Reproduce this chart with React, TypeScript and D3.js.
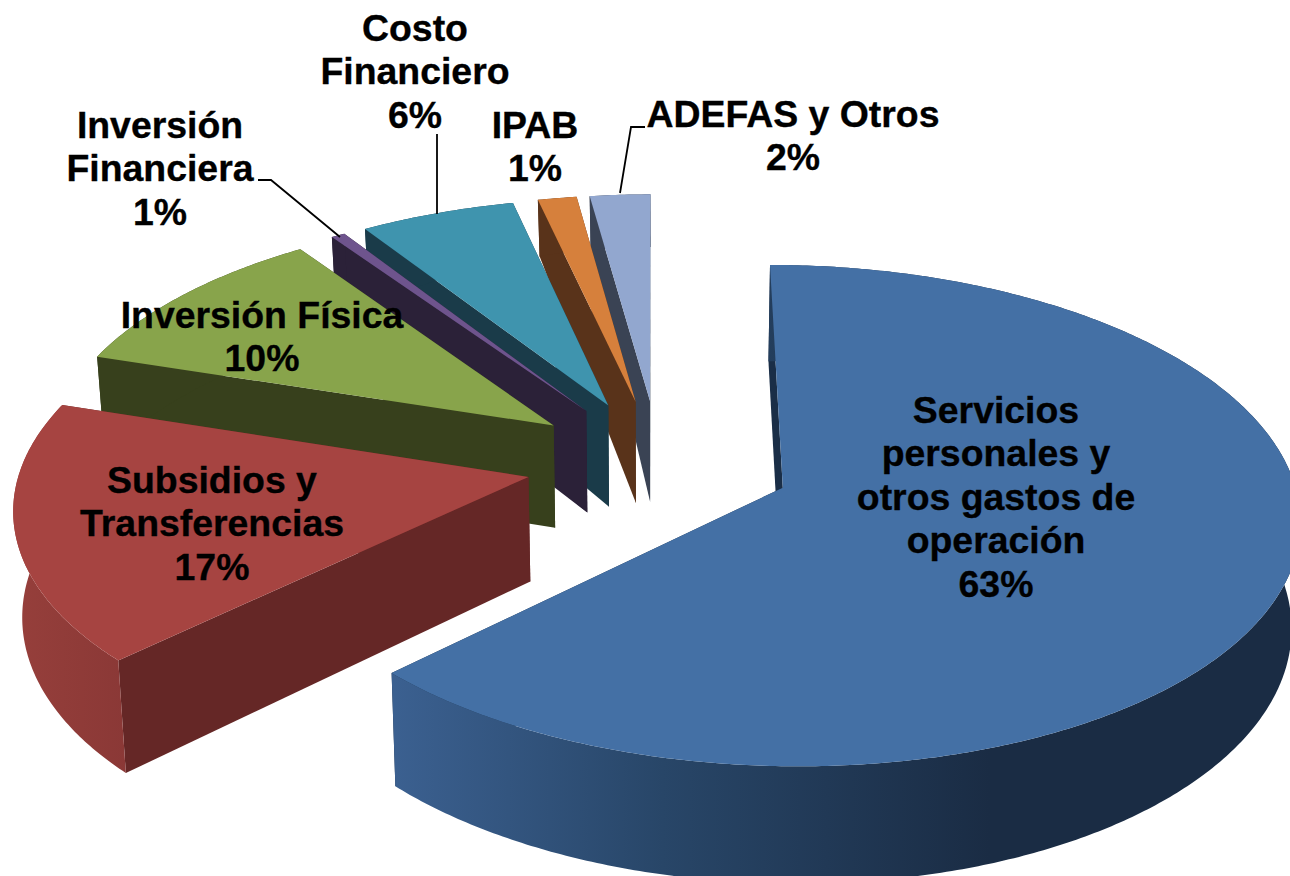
import React from "react";
import * as d3 from "d3";

const categories = ["Servicios personales y otros gastos de operación", "Subsidios y Transferencias", "Inversión Física", "Inversión Financiera", "Costo Financiero", "IPAB", "ADEFAS y Otros"];
const shares = [62.87, 17.05, 10.4, 0.5, 5.6, 1.4, 2.18];
const percentLabels = ["63%", "17%", "10%", "1%", "6%", "1%", "2%"];
const topColors = ["#4470A5", "#A64441", "#88A44B", "#6E548D", "#3F94AE", "#D6803C", "#92A7CF"];
const sideColors = ["#1A2E47", "#652726", "#37401C", "#2B2138", "#1A3B49", "#59331A", "#3A4354"];
const labelLines = [
  ["Servicios", "personales y", "otros gastos de", "operación", "63%"],
  ["Subsidios y", "Transferencias", "17%"],
  ["Inversión Física", "10%"],
  ["Inversión", "Financiera", "1%"],
  ["Costo", "Financiero", "6%"],
  ["IPAB", "1%"],
  ["ADEFAS y Otros", "2%"],
];
const labelCenterX = [996, 212, 262, 160, 415, 535, 793];
const labelFirstBaseline = [423, 493, 328, 138, 41, 138, 127];
const leaders: [number, number][][] = [
  [[258, 180], [271, 180], [340, 237]],
  [[437, 134], [437, 214]],
  [[645, 127], [631, 127], [620, 193]],
];

const W = 1290, H = 876;
const CX = 659, CY = 462.5, R = 507, A = 242, P = 0.11, EXPLODE = 0.2625;
const ROTATION = -0.05;
const BOTTOM_SHRINK = 0.986;
const depthAt = d3.scaleLinear().domain([-1.26, -0.95, -0.25, 1.25]).range([60, 106, 104, 103]).clamp(true);
const LINE = 43.4, FONT = 37.4;

type Pt = [number, number];
const top = (u: number, v: number): Pt => {
  const w = 1 - P * v;
  return [CX + (R * u) / w, CY + (A * v) / w];
};
const bottom = (u: number, v: number): Pt => {
  const w = 1 - P * v;
  const [x, y] = top(u, v);
  return [CX + (x - CX) * BOTTOM_SHRINK, y + depthAt(v) / w];
};
const path = d3.line<Pt>().x((d) => d[0]).y((d) => d[1]);
const poly = (pts: Pt[]) => path(pts) + "Z";

const pie = d3.pie<number>().sort(null).startAngle((ROTATION * Math.PI) / 180).endAngle(((360 + ROTATION) * Math.PI) / 180);
const arcs = pie(shares);

const slices = arcs.map((a, i) => {
  const mid = (a.startAngle + a.endAngle) / 2;
  const u0 = EXPLODE * Math.sin(mid), v0 = -EXPLODE * Math.cos(mid);
  const n = Math.max(2, Math.ceil((a.endAngle - a.startAngle) / 0.01));
  const rim = d3.range(n + 1).map((k) => {
    const t = a.startAngle + ((a.endAngle - a.startAngle) * k) / n;
    return [u0 + Math.sin(t), v0 - Math.cos(t)] as Pt;
  });
  const apexT = top(u0, v0), apexB = bottom(u0, v0);
  const rimT = rim.map((p) => top(p[0], p[1]));
  const rimB = rim.map((p) => bottom(p[0], p[1]));
  return {
    i,
    face: poly([apexT, ...rimT]),
    startWall: poly([apexT, rimT[0], rimB[0], apexB]),
    endWall: poly([apexT, rimT[n], rimB[n], apexB]),
    outer: poly([...rimT, ...rimB.slice().reverse()]),
  };
});

export default function App() {
  return (
    <svg width={W} height={H} viewBox={`0 0 ${W} ${H}`} style={{ position: "fixed", left: 0, top: 0, display: "block", background: "#fff" }}>
      <defs>
        <linearGradient id="wall0" gradientUnits="userSpaceOnUse" x1={395} x2={990} y1={0} y2={0}>
          <stop offset="0" stopColor="#3B6090" />
          <stop offset="0.45" stopColor="#284668" />
          <stop offset="1" stopColor="#1A2C44" />
        </linearGradient>
        <linearGradient id="wall1" gradientUnits="userSpaceOnUse" x1={15} x2={130} y1={0} y2={0}>
          <stop offset="0" stopColor="#963F3B" />
          <stop offset="1" stopColor="#8A3836" />
        </linearGradient>
      </defs>
      {slices.slice().reverse().map((s) => (
        <g key={categories[s.i]}>
          <path d={s.endWall} fill={sideColors[s.i]} />
          <path d={s.startWall} fill={sideColors[s.i]} />
          <path d={s.outer} fill={s.i === 0 ? "url(#wall0)" : s.i === 1 ? "url(#wall1)" : sideColors[s.i]} />
          <path d={s.face} fill={topColors[s.i]} />
        </g>
      ))}
      {leaders.map((l, i) => (
        <path key={i} d={path(l) as string} fill="none" stroke="#000" strokeWidth={1.8} />
      ))}
      {labelLines.map((lines, i) => (
        <text key={i} textAnchor="middle" fontFamily="'Liberation Sans', Arial, sans-serif" fontWeight="bold" fontSize={FONT} fill="#000" stroke="#000" strokeWidth={0.35}>
          {lines.map((t, j) => (
            <tspan key={j} x={labelCenterX[i]} y={labelFirstBaseline[i] + j * LINE}>{t}</tspan>
          ))}
        </text>
      ))}
    </svg>
  );
}
